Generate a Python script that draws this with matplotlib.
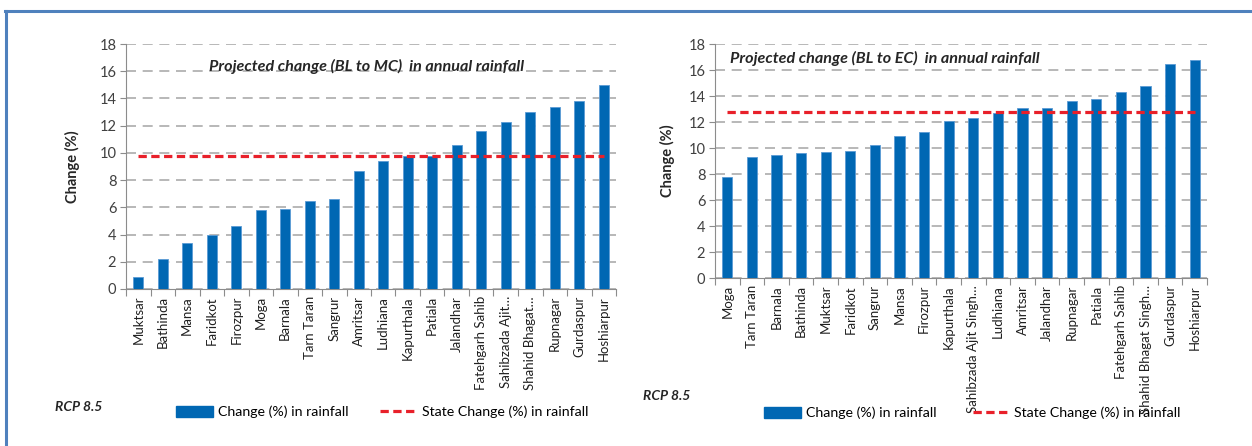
import matplotlib
matplotlib.use("Agg")
import matplotlib.pyplot as plt
from matplotlib.lines import Line2D
from matplotlib.patches import Patch
import numpy as np

plt.rcParams['font.family'] = ['Lato', 'DejaVu Sans']

# ---- data ----
mc_districts = ["Muktsar", "Bathinda", "Mansa", "Faridkot", "Firozpur", "Moga", "Barnala",
                "Tarn Taran", "Sangrur", "Amritsar", "Ludhiana", "Kapurthala", "Patiala",
                "Jalandhar", "Fatehgarh Sahib", "Sahibzada Ajit…", "Shahid Bhagat…",
                "Rupnagar", "Gurdaspur", "Hoshiarpur"]
mc_change = [0.9, 2.2, 3.4, 4.0, 4.6, 5.8, 5.9, 6.5, 6.6, 8.7, 9.4, 9.8, 9.8,
             10.6, 11.6, 12.3, 13.0, 13.4, 13.8, 15.0]
mc_state = 9.8

ec_districts = ["Moga", "Tarn Taran", "Barnala", "Bathinda", "Muktsar", "Faridkot", "Sangrur",
                "Mansa", "Firozpur", "Kapurthala", "Sahibzada Ajit Singh…", "Ludhiana",
                "Amritsar", "Jalandhar", "Rupnagar", "Patiala", "Fatehgarh Sahib",
                "Shahid Bhagat Singh…", "Gurdaspur", "Hoshiarpur"]
ec_change = [7.8, 9.3, 9.5, 9.6, 9.7, 9.8, 10.2, 10.9, 11.2, 12.1, 12.3, 12.7,
             13.1, 13.1, 13.6, 13.8, 14.3, 14.8, 16.5, 16.8]
ec_state = 12.8

yticks = [0, 2, 4, 6, 8, 10, 12, 14, 16, 18]
titles = ["Projected change (BL to MC)  in annual rainfall",
          "Projected change (BL to EC)  in annual rainfall"]
scenario = "RCP 8.5"
bar_label = "Change (%) in rainfall"
line_label = "State Change (%) in rainfall"
ylabel = "Change (%)"

BAR = '#0067b3'
BAR_EDGE = '#5b9bd5'
RED = '#e8202a'
GRID = '#ababab'
AX = '#8c8c8c'

W, H = 1252, 446
fig = plt.figure(figsize=(W / 100, H / 100), dpi=100)


def fx(px):
    return px / W


def fy(py):
    return 1 - py / H


def draw(rect, cats, vals, state, title, title_pos, title_ha, ylab_x):
    ax = fig.add_axes(rect)
    x = np.arange(len(cats))
    ax.bar(x, vals, width=0.42, color=BAR, edgecolor=BAR_EDGE, linewidth=0.6, zorder=3)
    ax.plot([x[0], x[-1]], [state, state], color=RED, lw=2.3, dashes=(2.6, 1.4),
            zorder=4, solid_capstyle='butt', dash_capstyle='butt')
    ax.set_xlim(-0.5, len(cats) - 0.5)
    ax.set_ylim(0, 18)
    ax.set_yticks(yticks)
    ax.set_yticklabels([str(t) for t in yticks], fontsize=10.5, color='#404040')
    ax.set_xticks(x)
    ax.set_xticklabels(cats, rotation=90, fontsize=9.5, color='#202020')
    ax.set_xticks(np.arange(-0.5, len(cats)), minor=True)
    ax.tick_params(axis='x', which='major', length=0, pad=5)
    ax.tick_params(axis='x', which='minor', length=5, color=AX, width=0.8)
    ax.tick_params(axis='y', length=4, color=AX, width=0.8, pad=3)
    ax.yaxis.grid(True, color=GRID, lw=1.2, dashes=(6, 4), zorder=0)
    ax.set_axisbelow(True)
    for s in ['top', 'right']:
        ax.spines[s].set_visible(False)
    for s in ['left', 'bottom']:
        ax.spines[s].set_color(AX)
        ax.spines[s].set_linewidth(0.8)
    ax.text(title_pos[0], title_pos[1], title, transform=ax.transAxes, ha=title_ha,
            va='center', fontsize=11.6, fontweight='bold', style='italic', color='#262626')
    fig.text(fx(ylab_x), rect[1] + rect[3] / 2, ylabel, rotation=90, ha='center',
             va='center', fontsize=10.5, fontweight='bold', color='#262626')
    return ax


axL = draw([fx(126), fy(289), fx(616 - 126), (289 - 44) / H], mc_districts, mc_change,
           mc_state, titles[0], (0.49, 0.91), 'center', 72)
axR = draw([fx(715), fy(278), fx(1207 - 715), (278 - 44) / H], ec_districts, ec_change,
           ec_state, titles[1], (0.03, 0.94), 'left', 667)

# scenario labels
fig.text(fx(55), fy(407), scenario, fontsize=10, fontweight='bold', style='italic',
         color='#262626', ha='left', va='center')
fig.text(fx(643), fy(396), scenario, fontsize=10, fontweight='bold', style='italic',
         color='#262626', ha='left', va='center')

handles = [Patch(facecolor=BAR, edgecolor=BAR),
           Line2D([0], [0], color=RED, lw=2.3, dashes=(2.6, 1.4))]
for lx, ly, cs in [(176, 412, 2.25), (764, 413, 2.55)]:
    fig.legend(handles, [bar_label, line_label], loc='center left',
               bbox_to_anchor=(fx(lx), fy(ly)), ncol=2, frameon=False, fontsize=10.2,
               handlelength=2.6, handleheight=0.75, handletextpad=0.35,
               columnspacing=cs, borderpad=0, borderaxespad=0)

# blue frame
FRAME = '#4f81bd'
fig.add_artist(Line2D([fx(5), 1], [fy(11), fy(11)], color=FRAME, lw=2.2))
fig.add_artist(Line2D([fx(6), fx(6)], [fy(11), 0], color=FRAME, lw=2.2))

fig.savefig("out.png", dpi=100)
